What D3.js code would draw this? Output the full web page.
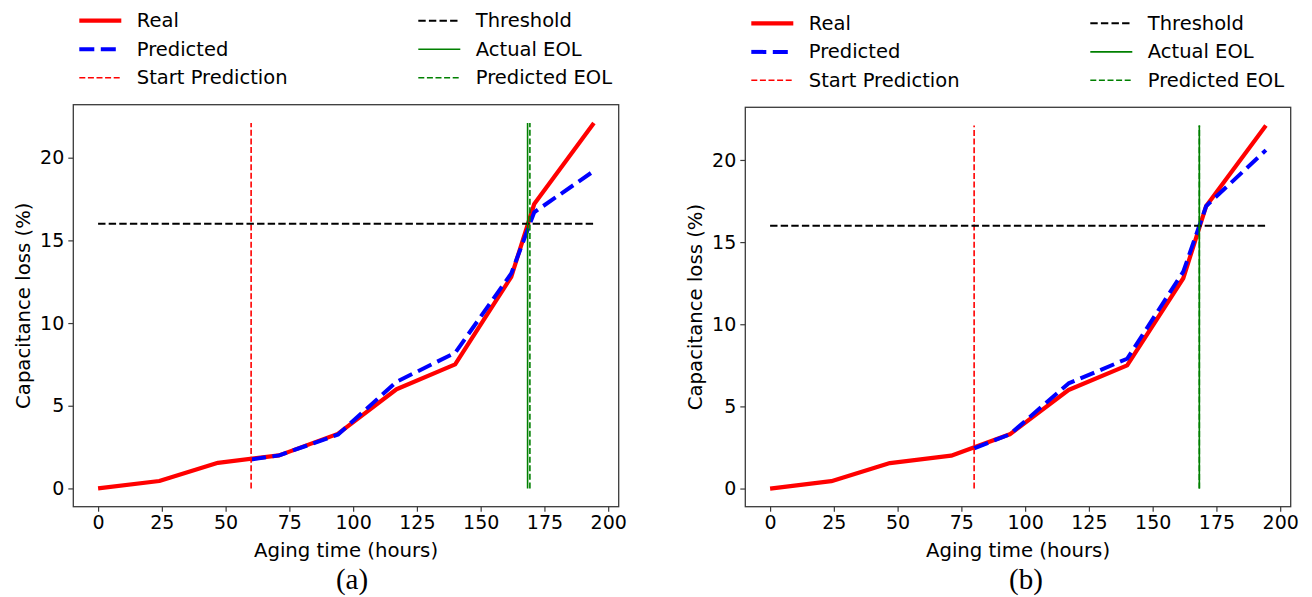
<!DOCTYPE html>
<html>
<head>
<meta charset="utf-8">
<script src="https://cdn.jsdelivr.net/npm/d3@7"></script>
<style>
  html, body { margin: 0; padding: 0; background: #fff; }
  svg { display: block; }
  text { font-family: "DejaVu Sans", sans-serif; fill: #000; }
</style>
</head>
<body>
<svg id="fig" width="1312" height="597"></svg>
<script>
// Aging hours at which capacitance was measured
const hours = [0, 24, 47, 71, 94, 117, 140, 162, 171, 194.4];
// Measured capacitance loss (%)
const realLoss = [0, 0.45, 1.55, 2.0, 3.3, 6.0, 7.5, 12.8, 17.2, 22.1];

// Panel (a): prediction starting at 60 h
const predHoursA = [60, 71, 94, 117, 140, 162, 171, 194.4];
const predLossA = [1.75, 2.0, 3.25, 6.45, 8.2, 13.0, 16.7, 19.2];

// Panel (b): prediction starting at 80 h
const predHoursB = [80, 94, 117, 140, 162, 171, 194.4];
const predLossB = [2.45, 3.3, 6.4, 7.9, 13.2, 17.2, 20.6];

const startPrediction = [60, 80];
const threshold = 16;
const actualEOL = [168.4, 168.3];
const predictedEOL = [169.3, 168.3];
const captions = ["(a)", "(b)"];

const xTicks = [0, 25, 50, 75, 100, 125, 150, 175, 200];
const yTicks = [0, 5, 10, 15, 20];

const legendLabels = ["Real", "Predicted", "Start Prediction", "Threshold", "Actual EOL", "Predicted EOL"];

const panels = [
  { box: { l: 73.3, r: 618.7, t: 104.7, b: 506.7 }, predH: predHoursA, predL: predLossA, i: 0, capX: 352 },
  { box: { l: 745.3, r: 1290.7, t: 107.3, b: 506.7 }, predH: predHoursB, predL: predLossB, i: 1, capX: 1026 }
];

const styles = {
  real:   { stroke: "#ff0000", width: 4.2, dash: null },
  pred:   { stroke: "#0000ff", width: 4, dash: "15,6.5" },
  start:  { stroke: "#ff0000", width: 1.6, dash: "6,2.6" },
  thr:    { stroke: "#000000", width: 2, dash: "7.4,3.2" },
  aeol:   { stroke: "#008000", width: 1.6, dash: null },
  peol:   { stroke: "#008000", width: 1.6, dash: "6,2.6" }
};
const legendStyles = [styles.real, styles.pred, styles.start, styles.thr, styles.aeol, styles.peol];

const svg = d3.select("#fig");

function applyStyle(sel, s) {
  sel.attr("fill", "none")
    .attr("stroke", s.stroke)
    .attr("stroke-width", s.width)
    .attr("stroke-dasharray", s.dash)
    .attr("stroke-linejoin", "round");
  return sel;
}

panels.forEach(p => {
  const { l, r, t, b } = p.box;
  const x = d3.scaleLinear().domain([-9.72, 204.12]).range([l, r]);
  const y = d3.scaleLinear().domain([-1.105, 23.205]).range([b, t]);
  const g = svg.append("g");

  const line = d3.line().x(d => x(d[0])).y(d => y(d[1]));
  const ymax = d3.max(realLoss);
  const xmax = d3.max(hours);

  const plot = g.append("g");
  applyStyle(plot.append("path").datum(d3.zip(hours, realLoss)).attr("d", line), styles.real);
  applyStyle(plot.append("path").datum(d3.zip(p.predH, p.predL)).attr("d", line), styles.pred);
  applyStyle(plot.append("path").datum([[startPrediction[p.i], 0], [startPrediction[p.i], ymax]]).attr("d", line), styles.start);
  applyStyle(plot.append("path").datum([[0, threshold], [xmax, threshold]]).attr("d", line), styles.thr);
  applyStyle(plot.append("path").datum([[actualEOL[p.i], 0], [actualEOL[p.i], ymax]]).attr("d", line), styles.aeol);
  applyStyle(plot.append("path").datum([[predictedEOL[p.i], 0], [predictedEOL[p.i], ymax]]).attr("d", line), styles.peol);

  // frame
  g.append("rect").attr("x", l).attr("y", t).attr("width", r - l).attr("height", b - t)
    .attr("fill", "none").attr("stroke", "#3a3a3a").attr("stroke-width", 1.3);

  // axes
  const xa = g.append("g").attr("transform", `translate(0,${b})`)
    .call(d3.axisBottom(x).tickValues(xTicks).tickSize(5).tickPadding(4).tickFormat(d3.format("d")));
  const ya = g.append("g").attr("transform", `translate(${l},0)`)
    .call(d3.axisLeft(y).tickValues(yTicks).tickSize(5).tickPadding(4).tickFormat(d3.format("d")));
  [xa, ya].forEach(a => {
    a.select(".domain").remove();
    a.selectAll(".tick line").attr("stroke", "#3a3a3a").attr("stroke-width", 1.2);
    a.selectAll(".tick text").attr("font-family", "DejaVu Sans").attr("font-size", 19).attr("fill", "#000");
  });

  // axis titles
  g.append("text").attr("x", (l + r) / 2).attr("y", b + 44).attr("text-anchor", "middle")
    .attr("dominant-baseline", "central").attr("font-size", 19.7).text("Aging time (hours)");
  g.append("text").attr("transform", `translate(${l - 50},${(t + b) / 2}) rotate(-90)`)
    .attr("text-anchor", "middle").attr("dominant-baseline", "central")
    .attr("font-size", 19.7).text("Capacitance loss (%)");

  // caption
  g.append("text").attr("x", p.capX).attr("y", 579).attr("text-anchor", "middle")
    .attr("dominant-baseline", "central")
    .style("font-family", "'Liberation Serif', 'Times New Roman', serif")
    .attr("font-size", 29).text(captions[p.i]);

  // legend: two columns of three
  const rowsDy = [-84, -55.4, -27];
  legendLabels.forEach((lab, k) => {
    const col = Math.floor(k / 3), row = k % 3;
    const hx = l + (col === 0 ? 6 : 345);
    const ly = t + rowsDy[row];
    applyStyle(g.append("line").attr("x1", hx).attr("x2", hx + 42).attr("y1", ly).attr("y2", ly), legendStyles[k])
      .attr("stroke-linecap", "butt");
    g.append("text").attr("x", hx + 57.5).attr("y", ly).attr("dominant-baseline", "central")
      .attr("font-size", 19.5).text(lab);
  });
});
</script>
</body>
</html>
